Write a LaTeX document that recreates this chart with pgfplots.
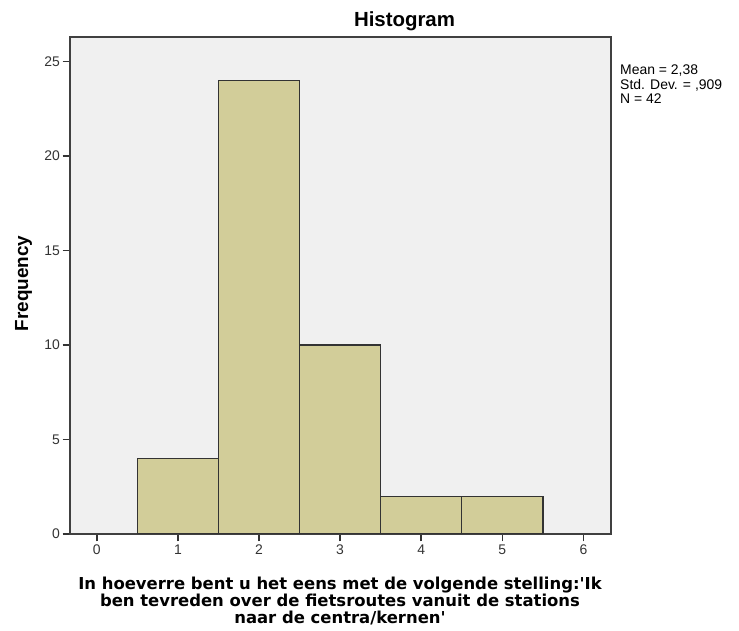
\documentclass[border=0pt]{standalone}
\usepackage{fontspec}
\setmainfont{Liberation Sans}
\newfontfamily\djb{DejaVu Sans}
\usepackage{pgfplots}
\pgfplotsset{compat=1.18}
\definecolor{bg}{RGB}{240,240,240}
\definecolor{barfill}{RGB}{210,205,153}
\begin{document}
\begin{tikzpicture}[x=1bp,y=1bp]
\useasboundingbox (0,0) rectangle (739,631);
\begin{axis}[at={(70bp,97bp)}, anchor=south west, scale only axis, width=541bp, height=497bp,
  xmin=-0.33, xmax=6.34, ymin=0, ymax=26.3,
  xtick={0,...,6}, ytick={0,5,...,25},
  axis background/.style={fill=bg},
  axis line style={draw=black!75, line width=1.6bp},
  every tick/.style={draw=black!80, line width=1.6bp},
  tick align=outside, major tick length=7.5bp,
  xtick pos=bottom, ytick pos=left,
  ticklabel style={font=\fontsize{14}{16}\selectfont, text=black!80},
  yticklabel style={inner xsep=2.5bp},
  /pgf/number format/assume math mode=true,
]
\addplot[ybar interval, fill=barfill, draw=black!80, line width=1.4bp] coordinates {(0.5,4)(1.5,24)(2.5,10)(3.5,2)(4.5,2)(5.5,2)};
\end{axis}
\node[anchor=base, inner sep=0pt, font=\bfseries\fontsize{20.5}{24}\selectfont] at (404.5,604) {Histogram};
\node[rotate=90, anchor=base, inner sep=0pt, font=\bfseries\fontsize{19}{22}\selectfont] at (28,347.5) {Frequency};
\node[align=center, inner sep=0pt, anchor=north, font=\djb\bfseries\fontsize{16.5}{17}\selectfont] at (340,54) {In hoeverre bent u het eens met de volgende stelling:\textquotesingle Ik\\ben tevreden over de fietsroutes vanuit de stations\\naar de centra/kernen\textquotesingle};
\node[anchor=north west, align=left, font=\fontsize{14}{14.5}\selectfont, inner sep=0pt] at (620,566) {Mean = 2,38\\Std. Dev. = ,909\\N = 42};
\end{tikzpicture}
\end{document}
